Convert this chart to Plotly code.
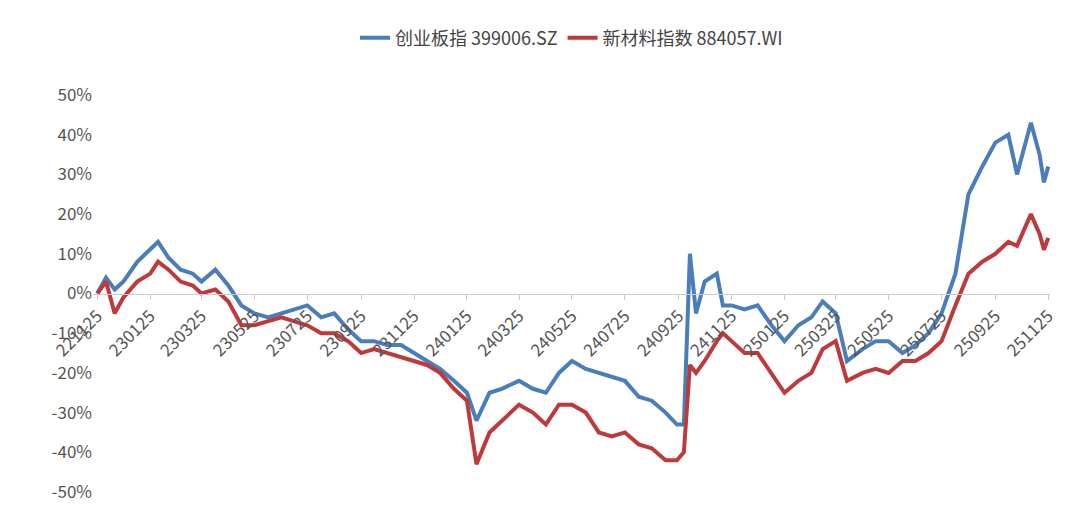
import plotly.graph_objects as go

dates = [
    "2022-11-25", "2022-12-05", "2022-12-15", "2022-12-25", "2023-01-10", "2023-01-25", "2023-02-03",
    "2023-02-15", "2023-03-01", "2023-03-15", "2023-03-25", "2023-04-10", "2023-04-25", "2023-05-10",
    "2023-05-25", "2023-06-10", "2023-06-25", "2023-07-10", "2023-07-25", "2023-08-10", "2023-08-25",
    "2023-09-10", "2023-09-25", "2023-10-10", "2023-10-25", "2023-11-10", "2023-11-25", "2023-12-10",
    "2023-12-25", "2024-01-10", "2024-01-25", "2024-02-05", "2024-02-20", "2024-03-05", "2024-03-25",
    "2024-04-10", "2024-04-25", "2024-05-10", "2024-05-25", "2024-06-10", "2024-06-25", "2024-07-10",
    "2024-07-25", "2024-08-10", "2024-08-25", "2024-09-10", "2024-09-23", "2024-10-01", "2024-10-08",
    "2024-10-15", "2024-10-25", "2024-11-08", "2024-11-15", "2024-11-25", "2024-12-10", "2024-12-25",
    "2025-01-10", "2025-01-25", "2025-02-10", "2025-02-25", "2025-03-10", "2025-03-25", "2025-04-07",
    "2025-04-25", "2025-05-10", "2025-05-25", "2025-06-10", "2025-06-25", "2025-07-10", "2025-07-25",
    "2025-08-10", "2025-08-25", "2025-09-10", "2025-09-25", "2025-10-10", "2025-10-20", "2025-11-05",
    "2025-11-15", "2025-11-20", "2025-11-25",
]
chinext = [
    0, 4, 1, 3, 8, 11, 13, 9, 6, 5, 3, 6, 2, -3,
    -5, -6, -5, -4, -3, -6, -5, -9, -12, -12, -13, -13, -15, -17,
    -19, -22, -25, -32, -25, -24, -22, -24, -25, -20, -17, -19, -20, -21,
    -22, -26, -27, -30, -33, -33, 10, -5, 3, 5, -3, -3, -4, -3,
    -8, -12, -8, -6, -2, -5, -17, -14, -12, -12, -15, -13, -10, -5,
    5, 25, 32, 38, 40, 30, 43, 35, 28, 32,
]
materials = [
    0, 3, -5, -1, 3, 5, 8, 6, 3, 2, 0, 1, -2, -8,
    -8, -7, -6, -7, -8, -10, -10, -12, -15, -14, -15, -16, -17, -18,
    -20, -24, -27, -43, -35, -32, -28, -30, -33, -28, -28, -30, -35, -36,
    -35, -38, -39, -42, -42, -40, -18, -20, -17, -12, -10, -12, -15, -15,
    -20, -25, -22, -20, -14, -12, -22, -20, -19, -20, -17, -17, -15, -12,
    -3, 5, 8, 10, 13, 12, 20, 15, 11, 14,
]
tick_dates = [
    "2022-11-25", "2023-01-25", "2023-03-25", "2023-05-25", "2023-07-25", "2023-09-25", "2023-11-25",
    "2024-01-25", "2024-03-25", "2024-05-25", "2024-07-25", "2024-09-25", "2024-11-25", "2025-01-25",
    "2025-03-25", "2025-05-25", "2025-07-25", "2025-09-25", "2025-11-25",
]
tick_labels = [d[2:4] + d[5:7] + d[8:10] for d in tick_dates]
y_ticks = [-50, -40, -30, -20, -10, 0, 10, 20, 30, 40, 50]

fig = go.Figure()
fig.add_trace(go.Scatter(x=dates, y=chinext, mode="lines", name="创业板指 399006.SZ",
                         line=dict(color="#4a7ebb", width=4)))
fig.add_trace(go.Scatter(x=dates, y=materials, mode="lines", name="新材料指数 884057.WI",
                         line=dict(color="#be3a3a", width=4)))

fig.update_layout(
    width=1080, height=522, plot_bgcolor="white", paper_bgcolor="white",
    margin=dict(l=85, r=38, t=74, b=38),
    font=dict(family="Noto Sans CJK SC, DejaVu Sans", size=17, color="#555"),
    legend=dict(orientation="h", x=0.5, xanchor="center", y=1.19, yanchor="top",
                font=dict(size=18, color="#444")),
    xaxis=dict(range=["2022-11-20", "2025-11-27"], tickvals=tick_dates, ticktext=tick_labels,
               tickangle=-45, anchor="free", position=0.5, showline=True, linecolor="#ccc",
               ticks="outside", tickcolor="#ccc", showgrid=False, zeroline=False),
    yaxis=dict(range=[-50, 50], tickvals=y_ticks, ticktext=[f"{v}%" for v in y_ticks],
               showgrid=False, zeroline=False, domain=[0, 1]),
)
fig.write_html("out.html")
